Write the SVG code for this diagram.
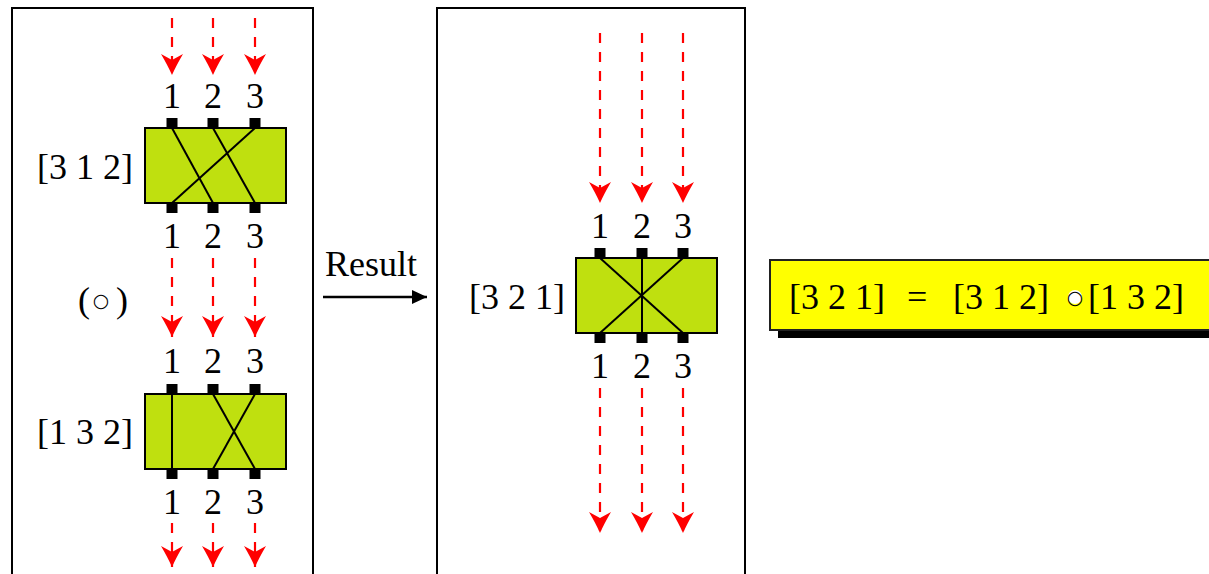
<svg xmlns="http://www.w3.org/2000/svg" width="1209" height="574" viewBox="0 0 1209 574">
<style>
.panel{fill:#fff;stroke:#000;stroke-width:2}
.box{fill:#BFE00F;stroke:#000;stroke-width:2}
.pin{fill:#000}
.wire{stroke:#000;stroke-width:2;fill:none}
.flow{stroke:#FF0000;stroke-width:2.2;stroke-dasharray:10 9;fill:none;marker-end:url(#ah)}
text{font-family:'Liberation Serif',serif;font-size:36px;fill:#000}
.tm{text-anchor:middle}
text.ring{font-family:'DejaVu Sans',sans-serif;font-size:19px;font-weight:bold;text-anchor:middle}
</style>
<defs>
<marker id="ah" viewBox="0 -11 21 22" refX="21" refY="0" markerWidth="21" markerHeight="22" markerUnits="userSpaceOnUse" orient="auto">
<path d="M0,-11 Q12,-4 21,0 Q12,4 0,11 L6,0 Z" fill="#FF0000"/>
</marker>
<marker id="bh" viewBox="0 -7 15 14" refX="15" refY="0" markerWidth="15" markerHeight="14" markerUnits="userSpaceOnUse" orient="auto">
<path d="M0,-7 L15,0 L0,7 Z" fill="#000"/>
</marker>
</defs>
<rect class="panel" x="12" y="8" width="301" height="600"/>
<rect class="panel" x="437" y="8" width="308" height="600"/>
<g id="connectors">
<line class="flow" x1="172" y1="18" x2="172" y2="75"/>
<line class="flow" x1="213" y1="18" x2="213" y2="75"/>
<line class="flow" x1="255" y1="18" x2="255" y2="75"/>
<line class="flow" x1="172" y1="258" x2="172" y2="337"/>
<line class="flow" x1="213" y1="258" x2="213" y2="337"/>
<line class="flow" x1="255" y1="258" x2="255" y2="337"/>
<line class="flow" x1="172" y1="523" x2="172" y2="567"/>
<line class="flow" x1="213" y1="523" x2="213" y2="567"/>
<line class="flow" x1="255" y1="523" x2="255" y2="567"/>
<line class="flow" x1="600" y1="33" x2="600" y2="203"/>
<line class="flow" x1="642" y1="33" x2="642" y2="203"/>
<line class="flow" x1="683" y1="33" x2="683" y2="203"/>
<line class="flow" x1="600" y1="388" x2="600" y2="533"/>
<line class="flow" x1="642" y1="388" x2="642" y2="533"/>
<line class="flow" x1="683" y1="388" x2="683" y2="533"/>
<line x1="323" y1="297" x2="427" y2="297" stroke="#000" stroke-width="2.5" marker-end="url(#bh)"/>
</g>
<g id="perm312">
<text class="tm" x="172" y="108">1</text><text class="tm" x="213" y="108">2</text><text class="tm" x="255" y="108">3</text>
<rect class="box" x="145" y="128" width="141" height="75"/>
<rect class="pin" x="166.5" y="118" width="11" height="10"/><rect class="pin" x="207.5" y="118" width="11" height="10"/><rect class="pin" x="249.5" y="118" width="11" height="10"/>
<rect class="pin" x="166.5" y="203" width="11" height="10"/><rect class="pin" x="207.5" y="203" width="11" height="10"/><rect class="pin" x="249.5" y="203" width="11" height="10"/>
<line class="wire" x1="172" y1="128" x2="213" y2="203"/>
<line class="wire" x1="213" y1="128" x2="255" y2="203"/>
<line class="wire" x1="255" y1="128" x2="172" y2="203"/>
<text x="133" y="179" text-anchor="end">[3 1 2]</text>
<text class="tm" x="172" y="248">1</text><text class="tm" x="213" y="248">2</text><text class="tm" x="255" y="248">3</text>
</g>
<g id="compose-op">
<text x="78" y="312">(</text>
<text class="ring" x="101" y="307">○</text>
<text x="128" y="312" text-anchor="end">)</text>
</g>
<g id="perm132">
<text class="tm" x="172" y="373">1</text><text class="tm" x="213" y="373">2</text><text class="tm" x="255" y="373">3</text>
<rect class="box" x="145" y="394" width="141" height="75"/>
<rect class="pin" x="166.5" y="384" width="11" height="10"/><rect class="pin" x="207.5" y="384" width="11" height="10"/><rect class="pin" x="249.5" y="384" width="11" height="10"/>
<rect class="pin" x="166.5" y="469" width="11" height="10"/><rect class="pin" x="207.5" y="469" width="11" height="10"/><rect class="pin" x="249.5" y="469" width="11" height="10"/>
<line class="wire" x1="172" y1="394" x2="172" y2="469"/>
<line class="wire" x1="213" y1="394" x2="255" y2="469"/>
<line class="wire" x1="255" y1="394" x2="213" y2="469"/>
<text x="133" y="444" text-anchor="end">[1 3 2]</text>
<text class="tm" x="172" y="514">1</text><text class="tm" x="213" y="514">2</text><text class="tm" x="255" y="514">3</text>
</g>
<g id="result-label">
<text x="325" y="276">Result</text>
</g>
<g id="perm321">
<text class="tm" x="600" y="238">1</text><text class="tm" x="642" y="238">2</text><text class="tm" x="683" y="238">3</text>
<rect class="box" x="576" y="258" width="141" height="75"/>
<rect class="pin" x="594.5" y="248" width="11" height="10"/><rect class="pin" x="636.5" y="248" width="11" height="10"/><rect class="pin" x="677.5" y="248" width="11" height="10"/>
<rect class="pin" x="594.5" y="333" width="11" height="10"/><rect class="pin" x="636.5" y="333" width="11" height="10"/><rect class="pin" x="677.5" y="333" width="11" height="10"/>
<line class="wire" x1="600" y1="258" x2="683" y2="333"/>
<line class="wire" x1="642" y1="258" x2="642" y2="333"/>
<line class="wire" x1="683" y1="258" x2="600" y2="333"/>
<text x="565" y="309" text-anchor="end">[3 2 1]</text>
<text class="tm" x="600" y="378">1</text><text class="tm" x="642" y="378">2</text><text class="tm" x="683" y="378">3</text>
</g>
<g id="equation">
<rect x="778" y="268" width="450" height="70" fill="#000"/>
<rect x="770" y="260" width="450" height="70" fill="#FFFF00" stroke="#222" stroke-width="2"/>
<text x="789" y="309">[3 2 1]</text>
<text x="907" y="309">=</text>
<text x="953" y="309">[3 1 2]</text>
<circle cx="1075" cy="297" r="7" fill="#fff"/>
<text class="ring" x="1075" y="304">○</text>
<text x="1088" y="309">[1 3 2]</text>
</g>
</svg>
